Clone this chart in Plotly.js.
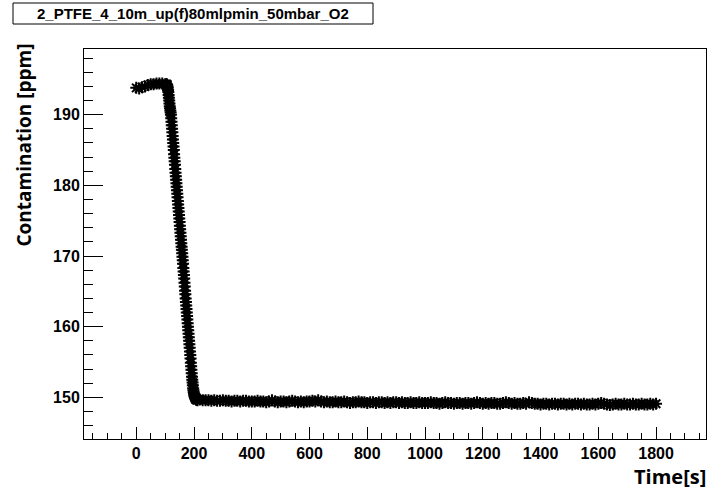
<!DOCTYPE html>
<html>
<head>
<meta charset="utf-8">
<script src="https://cdn.plot.ly/plotly-3.0.1.min.js"></script>
<style>
  html, body { margin: 0; padding: 0; background: #ffffff; }
  #chart { width: 710px; height: 491px; }
</style>
</head>
<body>
<div id="chart"></div>
<script>
// Oxygen contamination measured over time: plateau, purge drop, settled level.
const chartTitle = '2_PTFE_4_10m_up(f)80mlpmin_50mbar_O2';
const xTitle = 'Time[s]';
const yTitle = 'Contamination [ppm]';

// Initial plateau (s, ppm)
const plateauTime = [0, 10, 20, 30, 40, 50, 60, 70, 80, 90, 100, 103];
const plateauPpm  = [193.8, 193.7, 193.9, 194.0, 194.2, 194.3, 194.3, 194.4, 194.4, 194.4, 194.3, 194.3];

// Drop during the purge, one reading per second from 106 s to 212 s (ppm)
const dropStart = 106;
const dropPpm = [
  194.3, 194.2, 194.0, 193.8, 193.5, 193.2, 192.8, 192.4, 192.0, 191.6,
  191.2, 190.9, 190.6, 190.3, 190.0, 189.5, 189.0, 188.5, 188.0, 187.5,
  187.0, 186.5, 186.0, 185.5, 185.0, 184.4, 183.9, 183.4, 182.9, 182.3,
  181.8, 181.3, 180.8, 180.3, 179.8, 179.3, 178.8, 178.3, 177.8, 177.3,
  176.8, 176.3, 175.8, 175.3, 174.8, 174.3, 173.8, 173.3, 172.8, 172.3,
  171.8, 171.3, 170.9, 170.4, 169.9, 169.4, 168.9, 168.3, 167.8, 167.3,
  166.8, 166.2, 165.7, 165.1, 164.6, 164.0, 163.5, 163.0, 162.5, 162.0,
  161.5, 161.0, 160.5, 160.0, 159.5, 159.0, 158.5, 158.0, 157.5, 157.0,
  156.5, 156.0, 155.5, 154.9, 154.4, 153.9, 153.4, 152.9, 152.5, 152.1,
  151.7, 151.3, 151.0, 150.7, 150.5, 150.3, 150.1, 150.0, 149.9, 149.8,
  149.8, 149.7, 149.7, 149.7, 149.7, 149.7, 149.6
];
const dropTime = dropPpm.map((_, i) => dropStart + i);

// Settled level, one reading every 10 s from 220 s to 1800 s (ppm)
const settledStart = 220;
const settledStep = 10;
const settledPpm = [
  149.7,149.6,149.6,149.6,149.5,149.6,149.5,149.5,149.6,149.5,149.5,149.4,149.5,149.5,149.4,149.5,149.5,149.4,149.4,
  149.4,149.5,149.4,149.4,149.3,149.4,149.6,149.4,149.3,149.4,149.4,149.3,149.4,149.5,149.4,149.3,149.4,149.3,149.4,149.4,
  149.5,149.4,149.6,149.4,149.3,149.4,149.3,149.3,149.4,149.3,149.3,149.4,149.3,149.2,149.3,149.3,149.4,149.3,149.3,149.2,
  149.3,149.3,149.2,149.3,149.3,149.2,149.3,149.2,149.3,149.3,149.2,149.3,149.2,149.2,149.3,149.2,149.2,149.3,149.2,149.2,
  149.2,149.3,149.2,149.2,149.1,149.2,149.3,149.2,149.2,149.1,149.2,149.2,149.1,149.2,149.2,149.1,149.2,149.3,149.2,149.1,
  149.2,149.1,149.2,149.2,149.1,149.1,149.2,149.3,149.2,149.1,149.2,149.1,149.1,149.2,149.1,149.3,149.2,149.1,149.1,149.0,
  149.1,149.1,149.0,149.1,149.1,149.0,149.1,149.1,149.0,149.1,149.0,149.1,149.1,149.0,149.1,149.0,149.0,149.1,149.0,149.1,
  149.2,149.1,149.0,148.9,149.0,149.1,149.0,149.0,149.1,149.0,149.0,149.1,149.0,149.0,149.1,149.0,149.0,149.1,149.0,149.1
];
const settledTime = settledPpm.map((_, i) => settledStart + i * settledStep);

const timeS = plateauTime.concat(dropTime, settledTime);
const ppm = plateauPpm.concat(dropPpm, settledPpm);

// Axis ranges
const xRange = [-181, 1973];
const yRange = [144.1, 199.3];

// Layout geometry in pixels
const W = 710, H = 491;
const M = { l: 84, r: 4, t: 49, b: 52 };
const plotW = W - M.l - M.r;
const plotH = H - M.t - M.b;
const px = x => (x - M.l) / plotW;           // pixel x -> paper x
const py = y => (H - M.b - y) / plotH;       // pixel y -> paper y

const tickFont = { family: 'Liberation Sans, Arial, sans-serif', size: 16, color: '#000', weight: 'bold' };
const titleFont = { family: 'Open Sans, sans-serif', size: 19, color: '#000', weight: 'bold' };

const trace = {
  type: 'scatter',
  mode: 'markers',
  x: timeS,
  y: ppm,
  marker: { symbol: 'asterisk-open', size: 10, color: '#000', line: { color: '#000', width: 2 } },
  hoverinfo: 'skip'
};

const layout = {
  width: W,
  height: H,
  margin: M,
  paper_bgcolor: '#fff',
  plot_bgcolor: '#fff',
  showlegend: false,
  xaxis: {
    range: xRange,
    showline: true, linecolor: '#000', linewidth: 1, mirror: true,
    showgrid: false, zeroline: false,
    ticks: 'inside', ticklen: 12, tickwidth: 1, tickcolor: '#000',
    tick0: 0, dtick: 200,
    minor: { ticks: 'inside', ticklen: 6, tickwidth: 1, tickcolor: '#000', dtick: 50, tick0: 0, showgrid: false },
    tickfont: tickFont
  },
  yaxis: {
    range: yRange,
    showline: true, linecolor: '#000', linewidth: 1, mirror: true,
    showgrid: false, zeroline: false,
    ticks: 'inside', ticklen: 19, tickwidth: 1, tickcolor: '#000',
    tick0: 0, dtick: 10,
    minor: { ticks: 'inside', ticklen: 9, tickwidth: 1, tickcolor: '#000', dtick: 2, tick0: 0, showgrid: false },
    tickfont: tickFont
  },
  shapes: [
    {
      type: 'rect', xref: 'paper', yref: 'paper',
      x0: px(13), x1: px(373), y0: py(24), y1: py(3),
      line: { color: '#000', width: 1 }, fillcolor: '#fff'
    }
  ],
  annotations: [
    {
      text: chartTitle, xref: 'paper', yref: 'paper',
      x: px(193), y: py(13.5), xanchor: 'center', yanchor: 'middle',
      showarrow: false,
      font: { family: 'Liberation Sans, Arial, sans-serif', size: 15, color: '#000', weight: 'bold' }
    },
    {
      text: yTitle, xref: 'paper', yref: 'paper',
      x: px(23), y: py(42), xanchor: 'center', yanchor: 'top',
      textangle: -90, showarrow: false, font: titleFont
    },
    {
      text: xTitle, xref: 'paper', yref: 'paper',
      x: px(708), y: py(476), xanchor: 'right', yanchor: 'middle',
      showarrow: false, font: { family: 'Open Sans, sans-serif', size: 20, color: '#000', weight: 'bold' }
    }
  ]
};

Plotly.newPlot('chart', [trace], layout, { staticPlot: true, displayModeBar: false });
</script>
</body>
</html>
